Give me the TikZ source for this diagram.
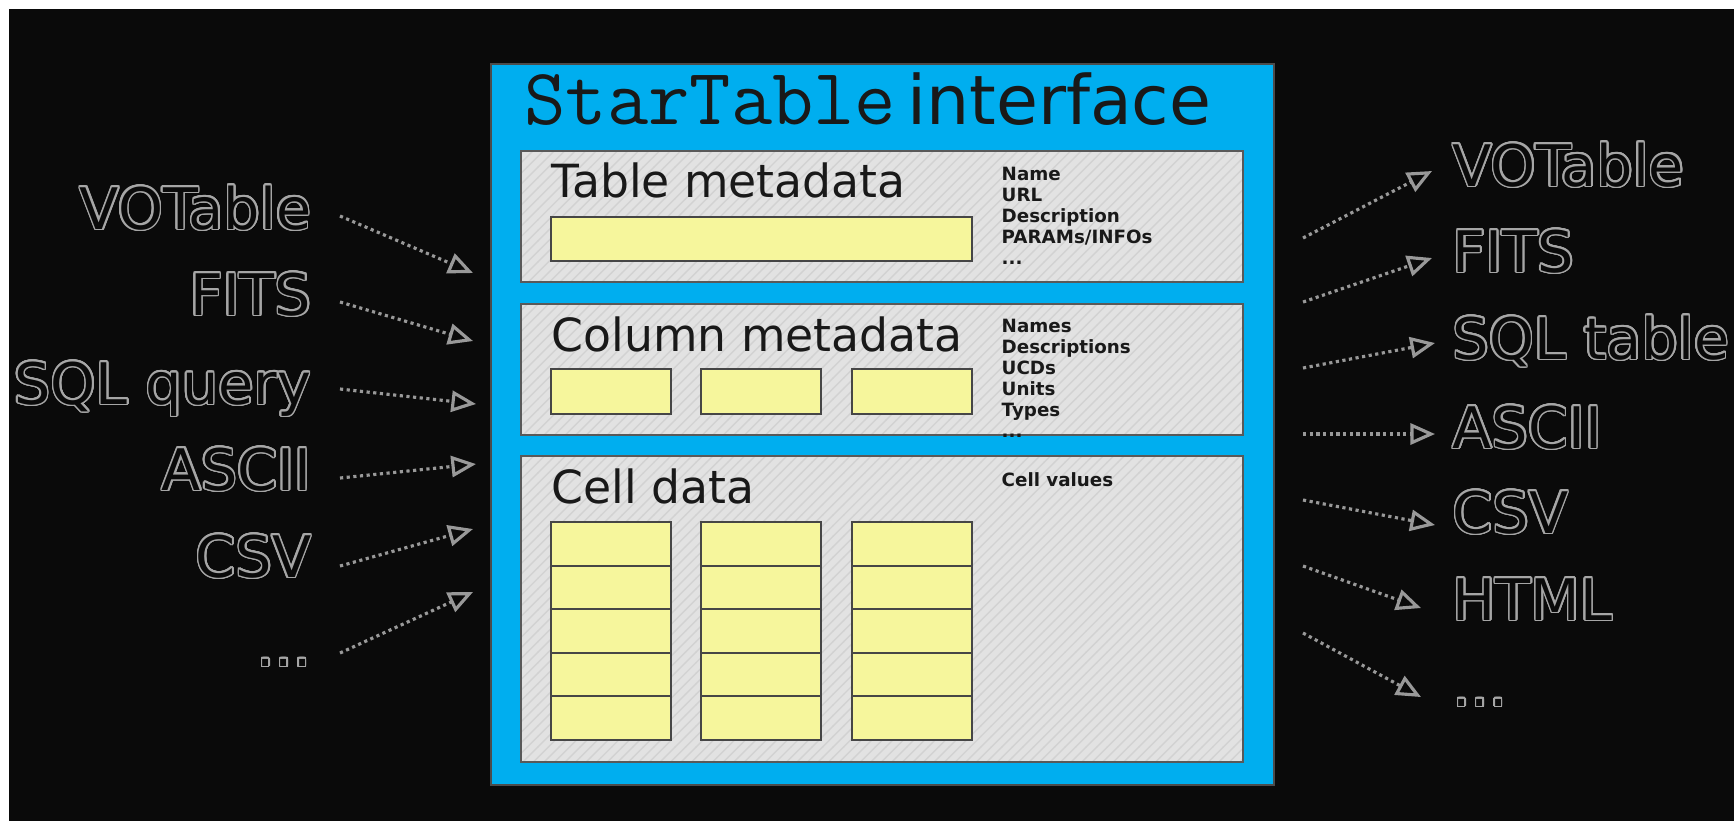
\documentclass[tikz,border=0pt]{standalone}
\usepackage{fontspec}
\setmainfont{DejaVu Sans}
\usepackage{contour}
\usetikzlibrary{arrows.meta,patterns}

\definecolor{bgblack}{RGB}{10,10,10}
\definecolor{ifaceblue}{RGB}{0,174,239}
\definecolor{panelgray}{RGB}{226,226,226}
\definecolor{hatchgray}{RGB}{210,210,210}
\definecolor{slotyellow}{RGB}{246,246,156}

\contourlength{0.45pt}
\contournumber{24}
\newcommand{\hollow}[1]{\contour{gray!70}{#1}}

\tikzset{
  panel/.style={preaction={fill=panelgray}, preaction={pattern=north east lines, pattern color=hatchgray},
    draw=gray!70!black, line width=0.6pt, minimum width=72.2mm, inner sep=0},
  slot/.style={draw=gray!55!black, fill=slotyellow, line width=0.6pt},
  hdr/.style={anchor=base west, inner sep=0, text=black!90, font=\fontsize{13}{13}\selectfont},
  attr/.style={anchor=north west, inner sep=0, align=left, text=black!90, font=\fontsize{5.2}{6}\selectfont\bfseries},
  fmt/.style={inner sep=0, text=bgblack, font=\fontsize{16.3}{16.3}\selectfont},
  flow/.style={gray!80, densely dotted, line width=0.9pt, -{Triangle[open, length=7pt, width=6pt]}},
}

\begin{document}
\begin{tikzpicture}[x=0.1mm, y=-0.1mm]

\useasboundingbox (0,0) rectangle (1734,821);
\fill[white] (0,0) rectangle (1734,821);
\fill[bgblack] (9,9) rectangle (1734,821);

% the interface box
\node[draw=gray!60!black, fill=ifaceblue, line width=0.6pt, minimum width=78.3mm, minimum height=72.1mm, inner sep=0] (iface) at (882.5,424.5) {};
\node[anchor=base west, inner sep=0, text=black!90] (title) at (524,124)
  {{\ttfamily\fontsize{22.8}{22.8}\selectfont StarTable}\ {\fontsize{19.4}{19.4}\selectfont interface}};

\node[panel, minimum height=13.1mm] (tmeta) at (882,216.5) {};
\node[panel, minimum height=13.1mm] (cmeta) at (882,369.5) {};
\node[panel, minimum height=30.6mm] (cdata) at (882,609) {};

\node[hdr] (tmeta-lbl) at (551,197) {Table metadata};
\node[hdr] (cmeta-lbl) at (551,351) {Column metadata};
\node[hdr] (cdata-lbl) at (551,503) {Cell data};

\node[attr] (tmeta-attr) at (1001,166) {Name\\URL\\Description\\PARAMs/INFOs\\...};
\node[attr] (cmeta-attr) at (1001,318) {Names\\Descriptions\\UCDs\\Units\\Types\\...};
\node[attr] (cdata-attr) at (1001,472) {Cell values};

% yellow slots
\draw[slot] (551,217) rectangle (972,261);
\foreach \cx in {551,701,852} {
  \draw[slot] (\cx,369) rectangle ++(120,45);
  \foreach \r in {0,...,4}
    \draw[slot] (\cx,522+43.6*\r) rectangle ++(120,43.6);
}

% input formats
\node[fmt, anchor=base east] (vo-in)   at (312,229) {\hollow{VOTable}};
\node[fmt, anchor=base east] (fits-in) at (312,315) {\hollow{FITS}};
\node[fmt, anchor=base east] (sql-in)  at (312,404) {\hollow{SQL query}};
\node[fmt, anchor=base east] (asc-in)  at (312,490) {\hollow{ASCII}};
\node[fmt, anchor=base east] (csv-in)  at (312,577) {\hollow{CSV}};
\node[fmt, anchor=base east] (etc-in)  at (312,666) {\hollow{...}};

\coordinate (in1) at (473,273);
\coordinate (in2) at (473,341);
\coordinate (in3) at (476,404);
\coordinate (in4) at (476,464);
\coordinate (in5) at (473,529);
\coordinate (in6) at (473,592);

\draw[flow] ([shift={(28,-13)}]vo-in.base east)   -- (in1);
\draw[flow] ([shift={(28,-13)}]fits-in.base east) -- (in2);
\draw[flow] ([shift={(28,-15)}]sql-in.base east)  -- (in3);
\draw[flow] ([shift={(28,-12)}]asc-in.base east)  -- (in4);
\draw[flow] ([shift={(28,-11)}]csv-in.base east)  -- (in5);
\draw[flow] ([shift={(28,-13)}]etc-in.base east)  -- (in6);

% output formats
\node[fmt, anchor=base west] (vo-out)   at (1452,186) {\hollow{VOTable}};
\node[fmt, anchor=base west] (fits-out) at (1452,272) {\hollow{FITS}};
\node[fmt, anchor=base west] (sql-out)  at (1452,359) {\hollow{SQL table}};
\node[fmt, anchor=base west] (asc-out)  at (1452,448) {\hollow{ASCII}};
\node[fmt, anchor=base west] (csv-out)  at (1452,533) {\hollow{CSV}};
\node[fmt, anchor=base west] (html-out) at (1452,620) {\hollow{HTML}};
\node[fmt, anchor=base west] (etc-out)  at (1452,706) {\hollow{...}};

\coordinate (out1) at (1303,238);
\coordinate (out2) at (1303,302);
\coordinate (out3) at (1303,368);
\coordinate (out4) at (1303,434);
\coordinate (out5) at (1303,500);
\coordinate (out6) at (1303,566);
\coordinate (out7) at (1303,633);

\draw[flow] (out1) -- ([shift={(-20,-15)}]vo-out.base west);
\draw[flow] (out2) -- ([shift={(-20,-14)}]fits-out.base west);
\draw[flow] (out3) -- ([shift={(-17,-16)}]sql-out.base west);
\draw[flow] (out4) -- ([shift={(-17,-14)}]asc-out.base west);
\draw[flow] (out5) -- ([shift={(-17,-8)}]csv-out.base west);
\draw[flow] (out6) -- ([shift={(-31,-12)}]html-out.base west);
\draw[flow] (out7) -- ([shift={(-31,-9)}]etc-out.base west);

\end{tikzpicture}
\end{document}
